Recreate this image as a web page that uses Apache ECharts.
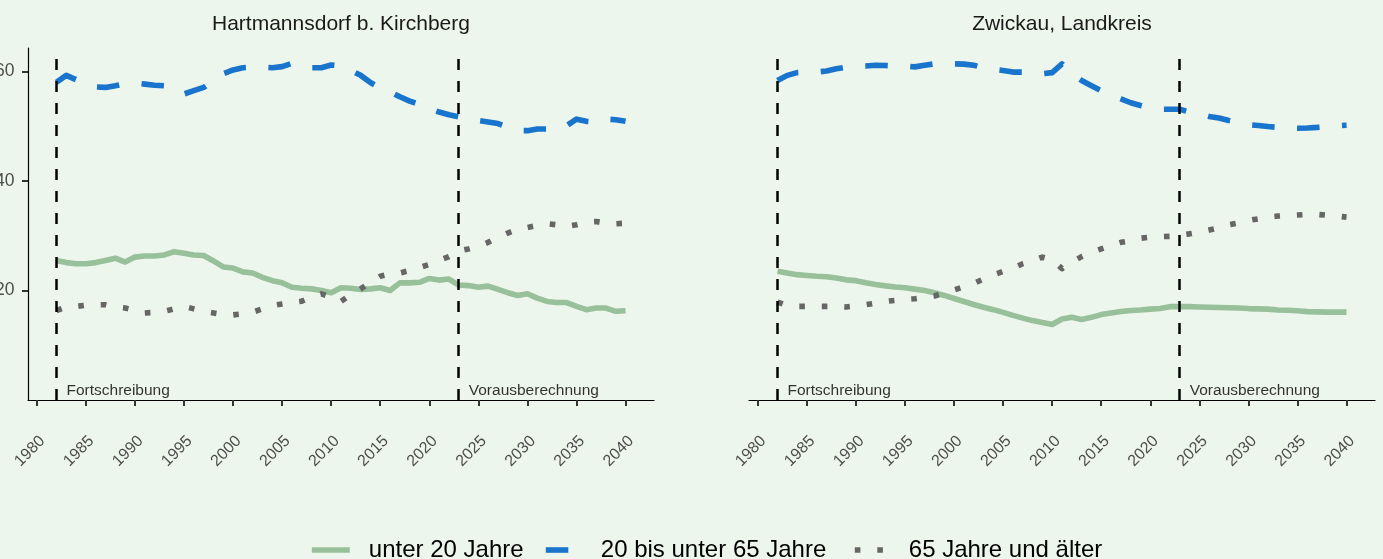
<!DOCTYPE html>
<html>
<head>
<meta charset="utf-8">
<script src="https://cdn.jsdelivr.net/npm/echarts@6/dist/echarts.min.js"></script>
<style>
  html, body { margin: 0; padding: 0; background: #EDF6EC; }
  #chart { width: 1383px; height: 559px; }
</style>
</head>
<body>
<div id="chart"></div>
<script>
  // data
  const years = [1982, 1983, 1984, 1985, 1986, 1987, 1988, 1989, 1990, 1991,
    1992, 1993, 1994, 1995, 1996, 1997, 1998, 1999, 2000, 2001,
    2002, 2003, 2004, 2005, 2006, 2007, 2008, 2009, 2010, 2011,
    2012, 2013, 2014, 2015, 2016, 2017, 2018, 2019, 2020, 2021,
    2022, 2023, 2024, 2025, 2026, 2027, 2028, 2029, 2030, 2031,
    2032, 2033, 2034, 2035, 2036, 2037, 2038, 2039, 2040];
  const xTicks = [1980, 1985, 1990, 1995, 2000, 2005, 2010, 2015, 2020, 2025, 2030, 2035, 2040];
  const yTicks = [20, 40, 60];
  const panelTitles = ['Hartmannsdorf b. Kirchberg', 'Zwickau, Landkreis'];
  const seriesNames = ['unter 20 Jahre', '20 bis unter 65 Jahre', '65 Jahre und älter'];
  const phaseYears = [1982, 2023];
  const phaseLabels = ['Fortschreibung', 'Vorausberechnung'];

  const hartUnter20 = [25.5, 25.1, 24.9, 24.9, 25.1, 25.5, 25.9, 25.2, 26.1, 26.3,
    26.3, 26.5, 27.1, 26.8, 26.5, 26.4, 25.4, 24.3, 24.1, 23.4,
    23.2, 22.4, 21.8, 21.4, 20.6, 20.4, 20.3, 20.0, 19.6, 20.5,
    20.4, 20.2, 20.3, 20.5, 20.0, 21.4, 21.4, 21.5, 22.2, 21.9,
    22.1, 21.0, 20.9, 20.6, 20.8, 20.2, 19.6, 19.1, 19.4, 18.6,
    18.0, 17.8, 17.8, 17.1, 16.5, 16.8, 16.8, 16.2, 16.3];
  const hart20bis65 = [58.05, 59.3, 58.5, 57.6, 57.2, 57.1, 57.4, 57.8, 57.9, 57.7,
    57.5, 57.4, 56.6, 55.9, 56.5, 57.1, 58.4, 59.6, 60.3, 60.7,
    60.8, 60.8, 60.7, 60.9, 61.5, 61.0, 60.7, 60.7, 61.2, 61.0,
    60.2, 59.3, 58.0, 57.0, 56.3, 55.4, 54.6, 54.0, 53.2, 52.6,
    52.1, 51.7, 51.2, 51.05, 50.8, 50.5, 49.8, 49.2, 49.2, 49.5,
    49.5, 49.6, 50.1, 51.3, 50.9, 50.75, 51.3, 51.2, 50.9];
  const hartAb65 = [16.35, 17.0, 17.1, 17.3, 17.4, 17.4, 17.0, 16.8, 16.35, 15.9,
    16.0, 16.2, 16.65, 17.1, 16.65, 16.2, 15.9, 15.6, 15.55, 15.75,
    16.05, 16.65, 17.25, 17.55, 17.85, 18.05, 18.8, 19.4, 18.8, 18.0,
    19.25, 20.3, 21.5, 22.6, 23.0, 23.2, 23.65, 24.2, 24.75, 25.5,
    26.2, 27.2, 27.6, 28.1, 28.8, 29.7, 30.5, 31.2, 31.5, 31.9,
    32.2, 32.0, 31.7, 32.0, 32.5, 32.6, 32.3, 32.2, 32.3];

  const zwUnter20 = [23.5, 23.2, 22.9, 22.75, 22.6, 22.5, 22.3, 21.95, 21.8, 21.4,
    21.1, 20.85, 20.65, 20.5, 20.25, 20.0, 19.6, 19.1, 18.55, 18.0,
    17.45, 16.95, 16.5, 16.0, 15.45, 14.95, 14.5, 14.15, 13.8, 14.8,
    15.1, 14.7, 15.1, 15.6, 15.9, 16.15, 16.35, 16.45, 16.6, 16.7,
    17.05, 17.05, 17.05, 17.0, 16.95, 16.9, 16.85, 16.8, 16.7, 16.65,
    16.6, 16.45, 16.4, 16.3, 16.15, 16.1, 16.05, 16.05, 16.05];
  const zw20bis65 = [58.35, 59.3, 59.8, 59.9, 59.9, 60.1, 60.5, 60.8, 60.9, 61.0,
    61.15, 61.1, 61.0, 61.0, 60.85, 61.15, 61.4, 61.4, 61.4, 61.35,
    61.15, 60.7, 60.4, 60.2, 59.9, 59.9, 59.8, 59.6, 59.8, 61.4,
    59.6, 58.35, 57.4, 56.5, 55.7, 55.0, 54.3, 53.8, 53.35, 53.1,
    53.1, 53.1, 52.6, 52.3, 51.8, 51.5, 51.05, 50.7, 50.3, 50.15,
    49.95, 49.8, 49.7, 49.65, 49.7, 49.8, 49.95, 50.1, 50.2];
  const zwAb65 = [17.9, 17.25, 17.1, 17.1, 17.1, 17.1, 17.1, 17.0, 17.2, 17.4,
    17.7, 18.0, 18.2, 18.4, 18.5, 18.8, 19.0, 19.6, 20.1, 20.7,
    21.3, 22.1, 22.85, 23.5, 24.1, 24.9, 25.45, 26.1, 25.6, 24.0,
    25.2, 26.2, 27.0, 27.6, 28.2, 28.8, 29.1, 29.55, 29.75, 29.85,
    29.9, 30.1, 30.35, 30.65, 31.05, 31.45, 32.0, 32.35, 32.8, 33.1,
    33.4, 33.6, 33.7, 33.8, 33.9, 33.9, 33.75, 33.6, 33.4];

  const panelData = [
    [hartUnter20, hart20bis65, hartAb65],
    [zwUnter20, zw20bis65, zwAb65]
  ];

  const font = '"Liberation Sans", Arial, sans-serif';
  const lineStyles = [
    {color: '#98C09A', type: 'solid'},
    {color: '#1874CD', type: [22.5, 22.5]},
    {color: '#666666', type: [5.6, 16.9]}
  ];
  const grids = [
    {left: 28, top: 48, width: 626, height: 352, containLabel: false, outerBoundsMode: 'none'},
    {left: 749, top: 48, width: 626, height: 352, containLabel: false, outerBoundsMode: 'none'}
  ];

  function pairs(values) {
    return years.map((y, i) => [y, values[i]]);
  }

  let myChart = echarts.init(document.getElementById('chart'));

  let series = [];
  panelData.forEach((panel, p) => {
    panel.forEach((values, k) => {
      series.push({
        name: seriesNames[k],
        type: 'line',
        xAxisIndex: p,
        yAxisIndex: p,
        data: pairs(values),
        showSymbol: false,
        symbol: 'none',
        itemStyle: {color: lineStyles[k].color},
        lineStyle: {color: lineStyles[k].color, width: 5.6, type: lineStyles[k].type, cap: 'butt', join: 'round'},
        emphasis: {disabled: true},
        z: 2 + k
      });
    });
    // Fortschreibung / Vorausberechnung markers
    series.push({
      type: 'scatter',
      xAxisIndex: p,
      yAxisIndex: p,
      symbolSize: 0,
      clip: false,
      silent: true,
      z: 10,
      data: phaseYears.map((y, k) => ({value: [y, 0], name: phaseLabels[k]})),
      label: {
        show: true,
        formatter: '{b}',
        position: [10, -1],
        align: 'left',
        verticalAlign: 'bottom',
        fontSize: 15.5,
        fontFamily: font,
        color: '#000'
      },
      markLine: {
        silent: true,
        symbol: ['none', 'none'],
        label: {show: false},
        lineStyle: {color: '#000', width: 2.5, type: [11, 11]},
        emphasis: {disabled: true},
        data: phaseYears.map(y => ({xAxis: y}))
      }
    });
  });

  const legendLeft = [304, 538, 847];
  const legendPad = [14, 12, 11];

  myChart.setOption({
    animation: false,
    backgroundColor: '#EDF6EC',
    textStyle: {fontFamily: font},
    title: panelTitles.map((t, i) => ({
      text: t,
      left: grids[i].left + grids[i].width / 2 - 5,
      top: 9,
      textAlign: 'center',
      textStyle: {fontSize: 21, fontWeight: 'normal', color: '#1A1A1A', fontFamily: font}
    })),
    legend: seriesNames.map((name, i) => ({
      data: [name],
      left: legendLeft[i],
      top: 533,
      itemWidth: 38,
      itemHeight: 14,
      selectedMode: false,
      itemStyle: {opacity: 0, borderWidth: 0},
      lineStyle: {width: 5.6},
      textStyle: {fontSize: 24, color: '#000', fontFamily: font, padding: [0, 0, 0, legendPad[i]]}
    })),
    grid: grids,
    xAxis: grids.map((g, i) => ({
      type: 'value',
      gridIndex: i,
      min: 1979.1,
      max: 2042.9,
      splitLine: {show: false},
      axisLine: {show: true, onZero: false, lineStyle: {color: '#000', width: 1.2}},
      axisTick: {show: true, length: 6, customValues: xTicks, lineStyle: {color: '#333', width: 2}},
      axisLabel: {
        customValues: xTicks,
        formatter: v => String(v),
        rotate: 45,
        margin: 33,
        verticalAlign: 'top',
        fontSize: 16,
        color: '#4D4D4D',
        fontFamily: font
      }
    })),
    yAxis: grids.map((g, i) => ({
      type: 'value',
      gridIndex: i,
      min: 0,
      max: 64.3,
      show: i === 0,
      splitLine: {show: false},
      axisLine: {show: true, onZero: false, lineStyle: {color: '#000', width: 1.2}},
      axisTick: {show: true, length: 6, customValues: yTicks, lineStyle: {color: '#333', width: 2}},
      axisLabel: {customValues: yTicks, margin: 13.5, fontSize: 17.5, color: '#4D4D4D', fontFamily: font}
    })),
    series: series
  });
</script>
</body>
</html>
